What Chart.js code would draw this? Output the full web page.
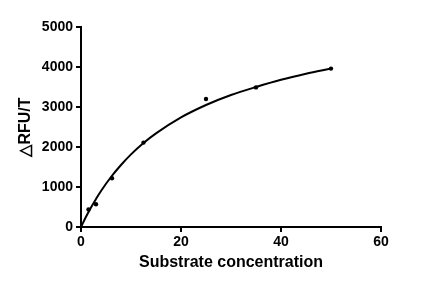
<!DOCTYPE html>
<html>
<head>
<meta charset="utf-8">
<script src="https://cdn.jsdelivr.net/npm/chart.js@4"></script>
<style>
html,body{margin:0;padding:0;background:#fff;}
#wrap{width:426px;height:288px;}
</style>
</head>
<body>
<div id="wrap"><canvas id="c" width="426" height="288"></canvas></div>
<script>
// Measured data points
const pointX = [1.5, 3, 6.2, 12.5, 25, 35, 50];
const pointY = [440, 570, 1220, 2110, 3200, 3490, 3960];
// Fitted curve
const curveX = [0, 1, 2, 3, 4, 6, 8, 10, 12.5, 15, 20, 25, 30, 35, 40, 45, 50];
const curveY = [0, 255, 490, 700, 900, 1250, 1550, 1815, 2100, 2340, 2740, 3050, 3300, 3500, 3680, 3830, 3960];
// Axis ticks
const xTicks = [0, 20, 40, 60];
const yTicks = [0, 1000, 2000, 3000, 4000, 5000];
const xTitle = 'Substrate concentration';
const yTitle = '△RFU/T';

const FONT = "'Liberation Sans', Arial, sans-serif";

new Chart(document.getElementById('c'), {
  type: 'scatter',
  data: {
    datasets: [
      {
        type: 'line',
        data: curveX.map((x, i) => ({x: x, y: curveY[i]})),
        borderColor: '#000',
        borderWidth: 2,
        pointRadius: 0,
        cubicInterpolationMode: 'monotone',
        fill: false,
        order: 2
      },
      {
        data: pointX.map((x, i) => ({x: x, y: pointY[i]})),
        backgroundColor: '#000',
        borderColor: '#000',
        borderWidth: 0,
        pointRadius: 2.2,
        pointStyle: 'circle',
        order: 1
      }
    ]
  },
  options: {
    responsive: false,
    animation: false,
    devicePixelRatio: 1,
    layout: {padding: {top: 27, right: 45, left: 0, bottom: 0}},
    plugins: {legend: {display: false}, tooltip: {enabled: false}},
    scales: {
      x: {
        type: 'linear',
        min: 0, max: 60,
        afterBuildTicks: s => { s.ticks = xTicks.map(v => ({value: v})); },
        afterFit: s => { s.height = 61; },
        grid: {drawOnChartArea: false, drawTicks: true, tickLength: 5, color: '#000', lineWidth: 2},
        border: {color: '#000', width: 2},
        ticks: {color: '#000', font: {family: FONT, size: 14, weight: 'bold'}, padding: 2, maxRotation: 0, callback: v => String(v)},
        title: {display: true, text: xTitle, color: '#000', font: {family: FONT, size: 16, weight: 'bold'}, padding: {top: 0, bottom: 16}}
      },
      y: {
        type: 'linear',
        min: 0, max: 5000,
        afterBuildTicks: s => { s.ticks = yTicks.map(v => ({value: v})); },
        afterFit: s => { s.width = 81; },
        grid: {drawOnChartArea: false, drawTicks: true, tickLength: 5, color: '#000', lineWidth: 2},
        border: {color: '#000', width: 2},
        ticks: {color: '#000', font: {family: FONT, size: 14, weight: 'bold'}, padding: 3, callback: v => String(v)},
        title: {display: true, text: yTitle, color: '#000', font: {family: FONT, size: 16, weight: 'bold'}, padding: {top: 16, bottom: 0}}
      }
    }
  }
});
</script>
</body>
</html>
